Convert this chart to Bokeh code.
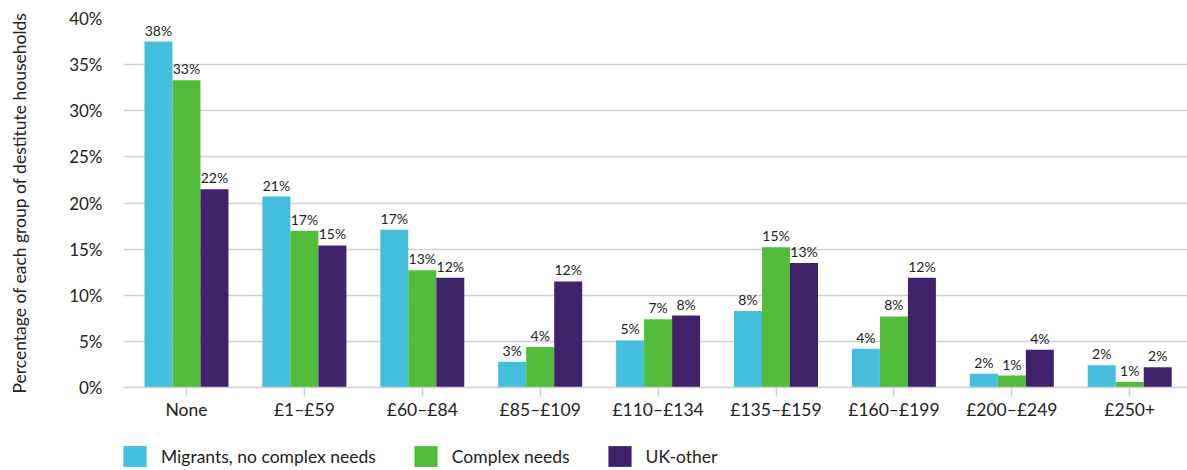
from bokeh.plotting import figure
from bokeh.layouts import column
from bokeh.models import Range1d, FixedTicker, PrintfTickFormatter, ColumnDataSource, Legend, LegendItem
from bokeh.core.properties import value
from bokeh.embed import file_html
from bokeh.resources import INLINE

categories = ["None", "£1–£59", "£60–£84", "£85–£109", "£110–£134",
              "£135–£159", "£160–£199", "£200–£249", "£250+"]
series_names = ["Migrants, no complex needs", "Complex needs", "UK-other"]
migrants = [37.5, 20.7, 17.1, 2.8, 5.1, 8.3, 4.2, 1.5, 2.4]
complex_needs = [33.3, 17.0, 12.7, 4.4, 7.4, 15.2, 7.7, 1.3, 0.6]
uk_other = [21.5, 15.4, 11.9, 11.5, 7.8, 13.5, 11.9, 4.1, 2.2]
migrants_labels = ["38%", "21%", "17%", "3%", "5%", "8%", "4%", "2%", "2%"]
complex_labels = ["33%", "17%", "13%", "4%", "7%", "15%", "8%", "1%", "1%"]
uk_labels = ["22%", "15%", "12%", "12%", "8%", "13%", "12%", "4%", "2%"]
y_ticks = [0, 5, 10, 15, 20, 25, 30, 35, 40]

colors = ["#43BFDB", "#52BD3A", "#40226B"]
FONT = "Lato"
TXT = "#222222"
GRID = "#d0d0d0"

p = figure(width=1187, height=440, output_backend="svg", toolbar_location=None,
           x_range=Range1d(-0.534, 8.49), y_range=Range1d(0, 40),
           min_border_left=123, min_border_right=0, min_border_top=18,
           min_border_bottom=53)
p.outline_line_alpha = 0
p.background_fill_color = "white"
p.border_fill_color = "white"

bw = 0.2375
offsets = [-bw, 0.0, bw]
all_vals = [migrants, complex_needs, uk_other]
all_labels = [migrants_labels, complex_labels, uk_labels]
idx = list(range(len(categories)))

for k in range(3):
    xs = [i + offsets[k] for i in idx]
    src = ColumnDataSource(dict(x=xs, top=all_vals[k], lab=all_labels[k]))
    p.vbar(x="x", top="top", width=bw, bottom=0, source=src,
           fill_color=colors[k], line_color=None)
    p.text(x="x", y="top", text="lab", source=src, text_align="center",
           text_baseline="bottom", y_offset=-3, text_color=TXT,
           text_font=value(FONT), text_font_size="14px")

# x axis
p.xaxis.ticker = FixedTicker(ticks=idx)
p.xaxis.major_label_overrides = {i: c for i, c in enumerate(categories)}
p.xaxis.axis_line_color = GRID
p.xaxis.axis_line_width = 1.5
p.xaxis.major_tick_line_color = GRID
p.xaxis.major_tick_line_width = 1.5
p.xaxis.major_tick_out = 9
p.xaxis.major_tick_in = 0
p.xaxis.minor_tick_line_color = None
p.xaxis.major_label_text_font = FONT
p.xaxis.major_label_text_font_size = "17.5px"
p.xaxis.major_label_text_color = TXT
p.xaxis.major_label_standoff = 2
p.xgrid.grid_line_color = None

# y axis
p.yaxis.ticker = FixedTicker(ticks=y_ticks)
p.yaxis.formatter = PrintfTickFormatter(format="%d%%")
p.yaxis.axis_line_color = None
p.yaxis.major_tick_line_color = None
p.yaxis.minor_tick_line_color = None
p.yaxis.major_label_standoff = 15
p.yaxis.major_label_text_font = FONT
p.yaxis.major_label_text_font_size = "17px"
p.yaxis.major_label_text_color = TXT
p.yaxis.axis_label = "Percentage of each group of destitute households"
p.yaxis.axis_label_text_font = FONT
p.yaxis.axis_label_text_font_size = "17.5px"
p.yaxis.axis_label_text_font_style = "normal"
p.yaxis.axis_label_text_color = TXT
p.yaxis.axis_label_standoff = 36
p.ygrid.grid_line_color = GRID
p.ygrid.grid_line_width = 1.5

# legend strip (frame aligned with the chart frame, starting at x=123)
lf = figure(width=1187, height=30, output_backend="svg", toolbar_location=None,
            x_range=Range1d(0, 1), y_range=Range1d(0, 1),
            x_axis_location=None, y_axis_location=None,
            min_border_left=0, min_border_right=0, min_border_top=0, min_border_bottom=0)
lf.outline_line_alpha = 0
lf.xgrid.grid_line_color = None
lf.ygrid.grid_line_color = None
items = []
for k in range(3):
    # zero-size proxy glyph, only used to draw the legend swatch
    r = lf.vbar(x=[0], top=[0], bottom=[0], width=0, fill_color=colors[k], line_color=None)
    items.append(LegendItem(label=series_names[k], renderers=[r]))
lg = Legend(items=items, orientation="horizontal", location=(-3, 1),
            padding=0, margin=0, spacing=35, glyph_width=29, glyph_height=26,
            label_standoff=12, border_line_alpha=0, background_fill_alpha=0,
            label_text_font=FONT, label_text_font_size="17.5px", label_text_color=TXT)
lf.add_layout(lg, "center")

layout = column(p, lf, spacing=0)
open("out.html", "w").write(file_html(layout, INLINE))
